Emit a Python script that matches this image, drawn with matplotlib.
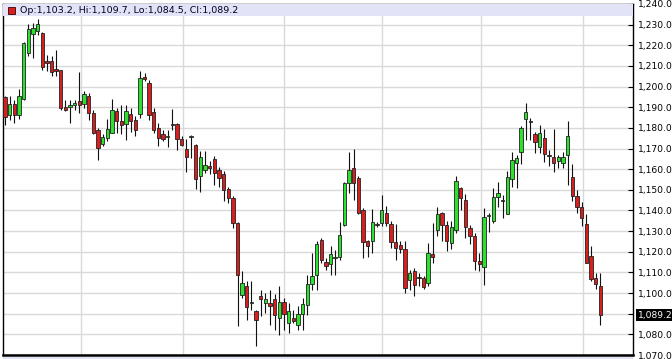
import numpy as np
import matplotlib
matplotlib.use("Agg")
import matplotlib.pyplot as plt
from matplotlib.patches import Rectangle

# daily OHLC, oldest first
opens = [1195.0, 1186.3, 1191.5, 1186.3, 1194.0, 1216.3, 1225.5, 1226.9, 1226.0, 1212.3,
         1212.3, 1208.5, 1207.9, 1190.2, 1190.0, 1191.1, 1193.2, 1191.6, 1195.6, 1187.3,
         1179.2, 1172.3, 1175.2, 1177.6, 1188.1, 1183.5, 1182.0, 1186.8, 1184.0, 1186.8,
         1204.5, 1201.8, 1187.6, 1180.0, 1176.8, 1175.8, 1181.6, 1181.9, 1174.7, 1169.8,
         1175.5, 1171.6, 1156.9, 1159.8, 1161.5, 1165.0, 1159.7, 1157.7, 1150.3, 1146.0,
         1133.9, 1099.2, 1103.5, 1095.3, 1091.1, 1098.4, 1095.2, 1095.2, 1097.1, 1087.9,
         1095.6, 1085.5, 1087.9, 1084.7, 1089.8, 1094.4, 1104.4, 1108.9, 1125.8, 1115.0,
         1114.2, 1116.8, 1117.4, 1133.1, 1153.2, 1160.5, 1155.6, 1140.0, 1125.0, 1125.0,
         1133.2, 1133.9, 1139.0, 1133.5, 1124.5, 1123.4, 1121.3, 1106.5, 1110.5, 1107.9,
         1107.3, 1104.8, 1119.0, 1130.6, 1138.7, 1133.1, 1124.2, 1130.6, 1151.1, 1145.2,
         1131.5, 1127.7, 1115.3, 1112.6, 1137.5, 1135.0, 1146.5, 1145.0, 1138.4, 1155.2,
         1162.9, 1168.2, 1184.2, 1183.1, 1177.1, 1170.6, 1175.3, 1166.7, 1166.1, 1164.0,
         1162.9, 1166.9, 1156.1, 1147.1, 1141.6, 1133.5, 1118.1, 1107.3, 1103.2]
highs = [1195.6, 1195.6, 1193.7, 1198.9, 1221.5, 1230.5, 1231.0, 1232.7, 1226.5, 1215.5,
         1214.7, 1217.6, 1208.2, 1193.7, 1193.7, 1193.7, 1206.9, 1198.1, 1196.9, 1188.9,
         1180.0, 1176.8, 1184.4, 1194.0, 1189.7, 1191.3, 1191.3, 1189.7, 1185.6, 1207.7,
         1206.7, 1203.1, 1189.7, 1182.4, 1179.2, 1179.2, 1189.2, 1182.5, 1176.0, 1174.4,
         1176.5, 1172.0, 1168.7, 1169.0, 1163.9, 1166.6, 1161.0, 1158.9, 1151.6, 1147.1,
         1134.2, 1110.5, 1105.6, 1105.6, 1091.9, 1101.6, 1100.0, 1101.6, 1099.7, 1103.2,
         1097.6, 1095.2, 1091.9, 1093.5, 1097.6, 1108.9, 1119.4, 1125.0, 1126.6, 1117.0,
         1122.6, 1121.0, 1134.4, 1154.0, 1168.5, 1169.7, 1156.8, 1141.1, 1125.8, 1140.6,
         1134.5, 1147.6, 1142.3, 1134.7, 1133.5, 1125.0, 1125.0, 1111.3, 1112.1, 1109.7,
         1108.1, 1124.2, 1134.0, 1141.9, 1139.5, 1134.7, 1134.7, 1156.8, 1151.6, 1148.1,
         1133.1, 1129.0, 1119.4, 1141.1, 1138.7, 1151.1, 1154.0, 1147.6, 1158.9, 1168.5,
         1166.9, 1181.0, 1191.9, 1184.7, 1178.2, 1181.5, 1179.4, 1169.4, 1179.4, 1166.9,
         1168.5, 1183.4, 1162.6, 1150.0, 1143.9, 1138.4, 1122.9, 1109.7, 1109.7]
lows = [1181.6, 1184.0, 1182.4, 1184.4, 1193.5, 1214.7, 1213.9, 1225.0, 1208.2, 1207.4,
        1205.0, 1205.0, 1188.9, 1188.1, 1182.4, 1188.9, 1187.3, 1189.7, 1184.0, 1176.8,
        1164.4, 1171.2, 1173.5, 1177.6, 1177.6, 1176.8, 1174.0, 1178.1, 1176.1, 1184.8,
        1202.6, 1184.0, 1177.6, 1171.2, 1173.5, 1170.6, 1178.9, 1169.5, 1171.0, 1158.5,
        1165.5, 1150.2, 1148.9, 1158.2, 1157.7, 1152.4, 1151.6, 1144.4, 1143.5, 1131.5,
        1083.9, 1097.6, 1087.1, 1091.9, 1074.2, 1088.7, 1090.3, 1084.7, 1082.3, 1079.8,
        1082.3, 1080.6, 1085.5, 1081.9, 1081.9, 1089.5, 1101.6, 1101.6, 1114.5, 1111.3,
        1108.9, 1108.9, 1115.8, 1132.3, 1148.4, 1145.2, 1138.4, 1116.9, 1117.7, 1119.4,
        1132.0, 1132.3, 1132.3, 1121.8, 1115.8, 1119.4, 1100.0, 1101.6, 1098.4, 1103.2,
        1101.9, 1103.2, 1114.5, 1127.4, 1125.0, 1120.6, 1121.3, 1129.0, 1140.3, 1126.6,
        1123.9, 1111.3, 1110.5, 1104.0, 1129.8, 1133.9, 1141.6, 1136.3, 1138.4, 1151.6,
        1150.8, 1162.6, 1174.2, 1174.2, 1167.7, 1167.7, 1163.7, 1161.3, 1158.4, 1160.5,
        1160.5, 1152.4, 1144.4, 1138.7, 1132.3, 1114.5, 1105.6, 1101.9, 1084.5]
closes = [1185.3, 1191.8, 1186.3, 1195.3, 1221.1, 1227.9, 1228.2, 1230.2, 1209.5, 1211.5,
          1207.1, 1207.7, 1189.7, 1188.9, 1191.3, 1192.1, 1191.1, 1196.5, 1187.3, 1177.6,
          1170.3, 1175.6, 1179.7, 1188.9, 1183.2, 1181.6, 1188.1, 1183.5, 1178.9, 1204.2,
          1203.9, 1186.0, 1179.2, 1175.2, 1174.4, 1176.2, 1181.2, 1174.4, 1171.9, 1166.0,
          1176.0, 1155.3, 1165.8, 1161.8, 1160.8, 1158.1, 1155.6, 1150.0, 1146.0, 1133.9,
          1108.9, 1104.8, 1093.2, 1095.8, 1086.8, 1097.1, 1097.3, 1093.5, 1089.5, 1095.5,
          1090.0, 1091.5, 1086.3, 1090.0, 1094.7, 1104.4, 1108.4, 1123.7, 1115.8, 1113.2,
          1118.9, 1117.4, 1128.2, 1153.2, 1159.7, 1153.5, 1138.7, 1124.5, 1122.9, 1134.2,
          1133.0, 1140.0, 1133.9, 1124.5, 1121.8, 1121.3, 1102.4, 1109.7, 1104.0, 1107.5,
          1102.7, 1119.4, 1117.7, 1138.2, 1133.1, 1125.3, 1131.9, 1154.4, 1146.0, 1131.9,
          1127.4, 1115.3, 1114.2, 1136.8, 1137.9, 1146.5, 1148.7, 1144.6, 1156.1, 1164.5,
          1165.3, 1179.8, 1187.6, 1182.9, 1173.1, 1177.4, 1167.3, 1166.3, 1162.9, 1166.1,
          1165.8, 1176.1, 1147.1, 1141.9, 1136.3, 1114.5, 1106.8, 1104.4, 1089.2]

# month separators (in candle units)
month_lines = [16.34, 38.28, 60.0, 81.08, 102.37, 124.3]
price_ticks = list(range(1070, 1250, 10))

W, H = 672, 359
GREEN = "#2ee02e"
RED = "#d81e1e"


def fmt(v):
    return f"{v:,.1f}"


def draw_candles(ax, o, h, l, c):
    idx = np.arange(len(o))
    up = c >= o
    colors = np.where(up, GREEN, RED)
    bottom = np.minimum(o, c)
    height = np.maximum(np.abs(c - o), 0.45)
    ax.vlines(idx, l, h, color="#111111", linewidth=0.8, zorder=2)
    ax.bar(idx, height, bottom=bottom, width=0.72, color=colors,
           edgecolor="#222222", linewidth=0.6, zorder=3)


def main():
    o = np.array(opens)
    h = np.array(highs)
    l = np.array(lows)
    c = np.array(closes)

    fig = plt.figure(figsize=(W / 100, H / 100), dpi=100)
    fig.patch.set_facecolor("white")
    ax = fig.add_axes([3 / W, (H - 355) / H, 630 / W, 351 / H])

    for y in price_ticks:
        ax.axhline(y, color="#d9d9d9", linewidth=1.0, zorder=0)
    for x in month_lines:
        ax.axvline(x, color="#d9d9d9", linewidth=1.0, zorder=0)

    draw_candles(ax, o, h, l, c)

    ax.set_xlim(-0.43, 135.05)
    ax.set_ylim(1070, 1240)
    ax.set_xticks([])

    ax.yaxis.tick_right()
    ax.set_yticks(price_ticks)
    ax.set_yticklabels([fmt(v) for v in price_ticks])
    ax.tick_params(axis="y", direction="in", length=3.5, width=0.8,
                   pad=3.4, labelsize=6.6, colors="black")

    for side in ["left", "top", "right"]:
        ax.spines[side].set_linewidth(1.0)
        ax.spines[side].set_color("black")
    ax.spines["bottom"].set_linewidth(1.8)

    # header band with last bar values
    band_h = 12 / 351
    ax.add_patch(Rectangle((0, 1 - band_h), 1, band_h, transform=ax.transAxes,
                           facecolor="#e3e3f8", edgecolor="none", zorder=4))
    ax.add_patch(Rectangle((5 / 630, 1 - 10 / 351), 7 / 630, 7 / 351,
                           transform=ax.transAxes, facecolor="#d81e1e",
                           edgecolor="#330000", linewidth=0.6, zorder=5))
    header = f"Op:{fmt(o[-1])}, Hi:{fmt(h[-1])}, Lo:{fmt(l[-1])}, Cl:{fmt(c[-1])}"
    ax.text(17 / 630, 1 - 6.5 / 351, header, transform=ax.transAxes,
            fontsize=6.8, color="#000022", va="center", ha="left", zorder=6)

    # strip of the next panel below
    fig.patches.append(Rectangle((3 / W, 0), 630 / W, 2.5 / H, transform=fig.transFigure,
                                 facecolor="#e3e3f8", edgecolor="none", zorder=0))

    # last price marker
    ly = (c[-1] - 1070) / 170 * 351 + (H - 355)
    fig.patches.append(Rectangle((636 / W, (ly - 6) / H), 40 / W, 12 / H,
                                 transform=fig.transFigure, facecolor="black",
                                 edgecolor="none", zorder=10))
    fig.text(638 / W, ly / H, fmt(c[-1]), color="white", fontsize=6.6,
             va="center", ha="left", zorder=11)

    plt.savefig("out.png", dpi=100)
    plt.close()


if __name__ == "__main__":
    main()
